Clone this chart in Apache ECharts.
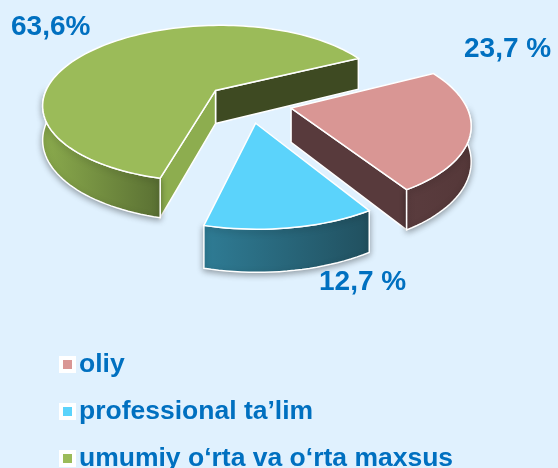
<!DOCTYPE html>
<html>
<head>
<meta charset="utf-8">
<script src="https://cdn.jsdelivr.net/npm/echarts@6/dist/echarts.min.js"></script>
<style>
html,body{margin:0;padding:0;background:#E0F1FE;}
#chart{width:558px;height:468px;}
</style>
</head>
<body>
<div id="chart"></div>
<script>
// ---- data ----
const categories = ['oliy', 'professional ta\u2019lim', 'umumiy o\u2018rta va o\u2018rta maxsus'];
const values = [23.7, 12.7, 63.6];
const labelTexts = ['23,7 %', '12,7 %', '63,6%'];

// ---- styles ----
const topColors = ['#D99694', '#5BD3FB', '#9BBB59'];
const sideColors = [['#5A3C3E', '#553839'], ['#2F7C95', '#21505F'], ['#8BAB4D', '#5A7033']];
const wallColors = [['#583A3C', '#583A3C'], ['#2A6A80', '#2A6A80'], ['#8DAD4F', '#3E4A22']];
const labelPos = [[464, 49], [319, 282], [11, 27]];
const drawZ = [2, 3, 1];

// ---- 3D projection layout ----
const L = { cx: 248.7, cy: 102.6, B: 174, A: 80, p: 0.17, H: 34, explode: 0.25, start: -27 };
const total = values.reduce((a, b) => a + b, 0);
const starts = [];
(function () { let acc = L.start; values.forEach(v => { starts.push(acc); acc += v / total * 360; }); })();

function proj(X, Z, bottom) {
  const s = 1 / (1 - L.p * Z);
  return [L.cx + L.B * X * s, L.cy + L.A * Z * s + (bottom ? L.H * s : 0)];
}
const rad = d => d * Math.PI / 180;
function arc(ox, oz, a0, a1, bottom) {
  const n = Math.max(2, Math.ceil((a1 - a0) / 2) + 1);
  const pts = [];
  for (let k = 0; k < n; k++) {
    const a = rad(a0 + (a1 - a0) * k / (n - 1));
    pts.push(proj(ox + Math.cos(a), oz + Math.sin(a), bottom));
  }
  return pts;
}

function renderItem(params, api) {
  const i = params.seriesIndex;
  const a0 = starts[i];
  const a1 = a0 + api.value(0) / total * 360;
  const m = rad((a0 + a1) / 2);
  const ox = L.explode * Math.cos(m), oz = L.explode * Math.sin(m);
  const faces = [];
  // outer side (front-facing parts)
  for (let k = -1; k <= 2; k++) {
    const lo = Math.max(a0, 360 * k), hi = Math.min(a1, 360 * k + 180);
    if (hi > lo) {
      const top = arc(ox, oz, lo, hi, false);
      const bot = arc(ox, oz, lo, hi, true).reverse();
      faces.push({ depth: oz + Math.sin(rad((lo + hi) / 2)), el: {
        type: 'polygon', shape: { points: top.concat(bot) },
        style: { fill: new echarts.graphic.LinearGradient(0, 0, 1, 0, [
          { offset: 0, color: sideColors[i][0] }, { offset: 1, color: sideColors[i][1] }]),
          stroke: '#fff', lineWidth: 1.5, shadowBlur: 6, shadowColor: 'rgba(0,0,0,0.35)', shadowOffsetY: 2 }
      }});
    }
  }
  // radial walls
  [[a0, a0 - 90, 0], [a1, a1 + 90, 1]].forEach(([a, n, w]) => {
    if (Math.sin(rad(n)) > 0) {
      const rx = ox + Math.cos(rad(a)), rz = oz + Math.sin(rad(a));
      faces.push({ depth: (oz + rz) / 2, el: {
        type: 'polygon',
        shape: { points: [proj(ox, oz, false), proj(rx, rz, false), proj(rx, rz, true), proj(ox, oz, true)] },
        style: { fill: wallColors[i][w], stroke: '#fff', lineWidth: 1.5 }
      }});
    }
  });
  faces.sort((a, b) => a.depth - b.depth);
  const children = faces.map(f => f.el);
  // top face
  children.push({
    type: 'polygon',
    shape: { points: [proj(ox, oz, false)].concat(arc(ox, oz, a0, a1, false)) },
    style: { fill: topColors[i], stroke: '#fff', lineWidth: 1.5 }
  });
  // label
  children.push({
    type: 'text', x: labelPos[i][0], y: labelPos[i][1],
    style: { text: labelTexts[i], fill: '#0070C0', fontSize: 28, fontWeight: 'bold',
      fontFamily: 'Liberation Sans, Arial, sans-serif', align: 'left', verticalAlign: 'middle' }
  });
  return { type: 'group', children };
}

const chart = echarts.init(document.getElementById('chart'), null, { renderer: 'canvas' });
chart.setOption({
  backgroundColor: '#E0F1FE',
  animation: false,
  legend: {
    orient: 'vertical', left: 59, top: 351, padding: 0, height: 140,
    itemWidth: 13, itemHeight: 13, itemGap: 20, icon: 'rect',
    itemStyle: { borderColor: '#fff', borderWidth: 4 },
    textStyle: { fontSize: 26.5, fontWeight: 'bold', color: '#0070C0', fontFamily: 'Liberation Sans, Arial, sans-serif' },
    data: categories
  },
  series: categories.map((name, i) => ({
    type: 'custom', name, coordinateSystem: 'none', z: drawZ[i], silent: true,
    itemStyle: { color: topColors[i] },
    renderItem, data: [[values[i]]]
  }))
});
</script>
</body>
</html>
